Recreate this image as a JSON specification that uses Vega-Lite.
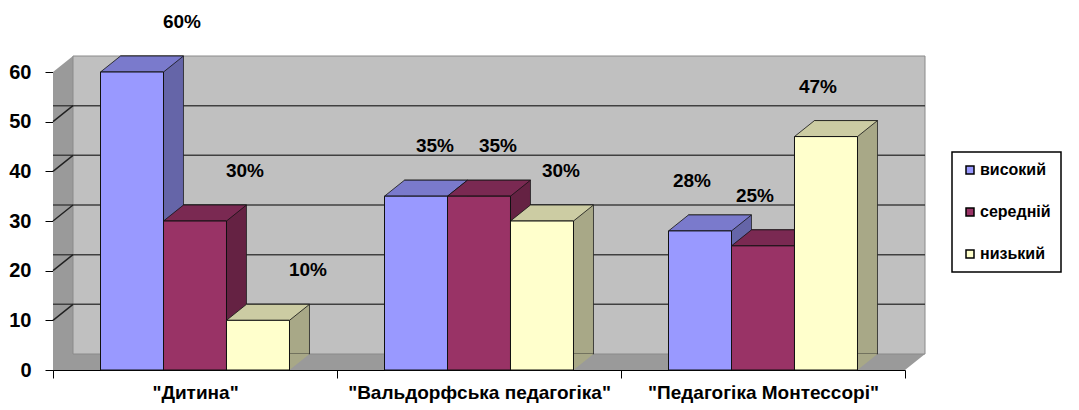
{
  "$schema": "https://vega.github.io/schema/vega-lite/v6.json",
  "width": 852,
  "height": 298,
  "autosize": "none",
  "padding": {"left": 53, "top": 72, "right": 174, "bottom": 40},
  "background": "white",
  "config": {"view": {"stroke": null}, "font": "Liberation Sans"},
  "data": {
    "values": [
      {"cat": "\"Дитина\"", "level": "високий", "value": 60, "label": "60%"},
      {"cat": "\"Дитина\"", "level": "середній", "value": 30, "label": "30%"},
      {"cat": "\"Дитина\"", "level": "низький", "value": 10, "label": "10%"},
      {"cat": "\"Вальдорфська педагогіка\"", "level": "високий", "value": 35, "label": "35%"},
      {"cat": "\"Вальдорфська педагогіка\"", "level": "середній", "value": 35, "label": "35%"},
      {"cat": "\"Вальдорфська педагогіка\"", "level": "низький", "value": 30, "label": "30%"},
      {"cat": "\"Педагогіка Монтессорі\"", "level": "високий", "value": 28, "label": "28%"},
      {"cat": "\"Педагогіка Монтессорі\"", "level": "середній", "value": 25, "label": "25%"},
      {"cat": "\"Педагогіка Монтессорі\"", "level": "низький", "value": 47, "label": "47%"}
    ]
  },
  "layer": [
    {
      "data": {"values": [{}]},
      "mark": {"type": "point", "shape": "M0,0L0,-298L20,-314L20,-16L872,-16L852,0Z", "size": 4, "filled": true, "fill": "#9a9a9a", "strokeWidth": 0, "opacity": 1},
      "encoding": {"x": {"value": 0}, "y": {"datum": 0}}
    },
    {
      "data": {"values": [{}]},
      "mark": {"type": "point", "shape": "M20,-16L20,-314L872,-314L872,-16Z", "size": 4, "filled": true, "fill": "#c0c0c0", "stroke": "#8a8a8a", "strokeWidth": 1, "opacity": 1},
      "encoding": {"x": {"value": 0}, "y": {"datum": 0}}
    },
    {
      "data": {"values": [{"v": 10}, {"v": 20}, {"v": 30}, {"v": 40}, {"v": 50}]},
      "mark": {"type": "rule", "color": "#404040", "strokeWidth": 1.5, "xOffset": 20, "x2Offset": 20, "yOffset": -16},
      "encoding": {"y": {"field": "v", "type": "quantitative"}}
    },
    {
      "data": {"values": [{"v": 10}, {"v": 20}, {"v": 30}, {"v": 40}, {"v": 50}]},
      "mark": {"type": "rule", "color": "#202020", "strokeWidth": 1.5, "y2Offset": -16},
      "encoding": {"x": {"value": 0}, "x2": {"value": 20}, "y": {"field": "v", "type": "quantitative"}, "y2": {"field": "v"}}
    },
    {
      "mark": {"type": "bar", "yOffset": -16, "y2Offset": -16, "stroke": "#222222", "strokeWidth": 0.8},
      "encoding": {
        "x": {"field": "cat", "type": "nominal", "sort": null, "scale": {"paddingInner": 0, "paddingOuter": 0}},
        "xOffset": {"field": "level", "type": "nominal", "sort": ["високий", "середній", "низький"], "scale": {"type": "band", "paddingInner": 0, "paddingOuter": 0.754, "align": 0.7105}},
        "y": {"field": "value", "type": "quantitative"},
        "y2": {"datum": 0},
        "color": {"field": "level", "type": "nominal", "scale": {"domain": ["високий", "середній", "низький"], "range": ["#6565a8", "#652243", "#a8a887"]}, "legend": null}
      }
    },
    {
      "mark": {"type": "point", "shape": "M31.5,0L51.5,-16L31.5,-16Z", "size": 4, "filled": true, "strokeWidth": 0, "opacity": 1},
      "encoding": {
        "x": {"field": "cat", "type": "nominal", "sort": null},
        "xOffset": {"field": "level", "type": "nominal", "sort": ["високий", "середній", "низький"], "scale": {"type": "band", "paddingInner": 0, "paddingOuter": 0.754}},
        "y": {"datum": 0},
        "color": {"field": "level", "type": "nominal", "scale": {"domain": ["високий", "середній", "низький"], "range": ["#6565a8", "#652243", "#a8a887"]}, "legend": null}
      }
    },
    {
      "mark": {"type": "point", "shape": "M-31.5,0L31.5,0L51.5,-16L-11.5,-16Z", "size": 4, "filled": true, "stroke": "#111111", "strokeWidth": 0.8, "opacity": 1},
      "encoding": {
        "x": {"field": "cat", "type": "nominal", "sort": null},
        "xOffset": {"field": "level", "type": "nominal", "sort": ["високий", "середній", "низький"], "scale": {"type": "band", "paddingInner": 0, "paddingOuter": 0.754}},
        "y": {"field": "value", "type": "quantitative"},
        "color": {"field": "level", "type": "nominal", "scale": {"domain": ["високий", "середній", "низький"], "range": ["#7a7acc", "#7a2952", "#ccccA3"]}, "legend": null}
      }
    },
    {
      "mark": {"type": "bar", "stroke": "#111111", "strokeWidth": 1},
      "encoding": {
        "x": {"field": "cat", "type": "nominal", "sort": null, "title": null,
          "axis": {"tickBand": "extent", "tickSize": 8, "tickColor": "black", "domainColor": "black", "labelAngle": 0, "labelAlign": "center", "labelFontSize": 19, "labelFontWeight": "bold", "labelColor": "black", "labelPadding": 14, "labelLimit": 300}},
        "xOffset": {"field": "level", "type": "nominal", "sort": ["високий", "середній", "низький"], "scale": {"type": "band", "paddingInner": 0, "paddingOuter": 0.754}},
        "y": {"field": "value", "type": "quantitative", "title": null, "scale": {"domain": [0, 60], "nice": false},
          "axis": {"values": [0, 10, 20, 30, 40, 50, 60], "grid": false, "tickSize": 8, "tickColor": "black", "domainColor": "black", "labelFontSize": 20, "labelFontWeight": "bold", "labelColor": "black", "labelPadding": 14}},
        "color": {"field": "level", "type": "nominal", "scale": {"domain": ["високий", "середній", "низький"], "range": ["#9999ff", "#993366", "#ffffcc"]},
          "legend": {"title": null, "orient": "none", "legendX": 899, "legendY": 80, "strokeColor": "black", "fillColor": "white", "padding": 10, "symbolType": "square", "symbolSize": 64, "symbolStrokeColor": "black", "symbolStrokeWidth": 1.5, "labelFontSize": 16, "labelFontWeight": "bold", "labelColor": "black", "rowPadding": 26, "labelOffset": 2,
            "encode": {"legend": {"update": {"strokeWidth": {"value": 1.5}}}}}}
      }
    },
    {
      "transform": [{"filter": {"field": "cat", "equal": "\"Дитина\""}}],
      "mark": {"type": "text", "dx": 50, "dy": -50, "fontSize": 19, "fontWeight": "bold", "color": "black"},
      "encoding": {
        "x": {"field": "cat", "type": "nominal", "sort": null},
        "xOffset": {"field": "level", "type": "nominal", "sort": ["високий", "середній", "низький"], "scale": {"type": "band", "paddingInner": 0, "paddingOuter": 0.754}},
        "y": {"field": "value", "type": "quantitative"},
        "text": {"field": "label"}
      }
    },
    {
      "transform": [{"filter": {"field": "cat", "equal": "\"Вальдорфська педагогіка\""}}],
      "mark": {"type": "text", "dx": 19, "dy": -50, "fontSize": 19, "fontWeight": "bold", "color": "black"},
      "encoding": {
        "x": {"field": "cat", "type": "nominal", "sort": null},
        "xOffset": {"field": "level", "type": "nominal", "sort": ["високий", "середній", "низький"], "scale": {"type": "band", "paddingInner": 0, "paddingOuter": 0.754}},
        "y": {"field": "value", "type": "quantitative"},
        "text": {"field": "label"}
      }
    },
    {
      "transform": [{"filter": {"field": "cat", "equal": "\"Педагогіка Монтессорі\""}}],
      "mark": {"type": "text", "dx": -8, "dy": -50, "fontSize": 19, "fontWeight": "bold", "color": "black"},
      "encoding": {
        "x": {"field": "cat", "type": "nominal", "sort": null},
        "xOffset": {"field": "level", "type": "nominal", "sort": ["високий", "середній", "низький"], "scale": {"type": "band", "paddingInner": 0, "paddingOuter": 0.754}},
        "y": {"field": "value", "type": "quantitative"},
        "text": {"field": "label"}
      }
    }
  ],
  "resolve": {"scale": {"color": "independent", "xOffset": "independent"}}
}
